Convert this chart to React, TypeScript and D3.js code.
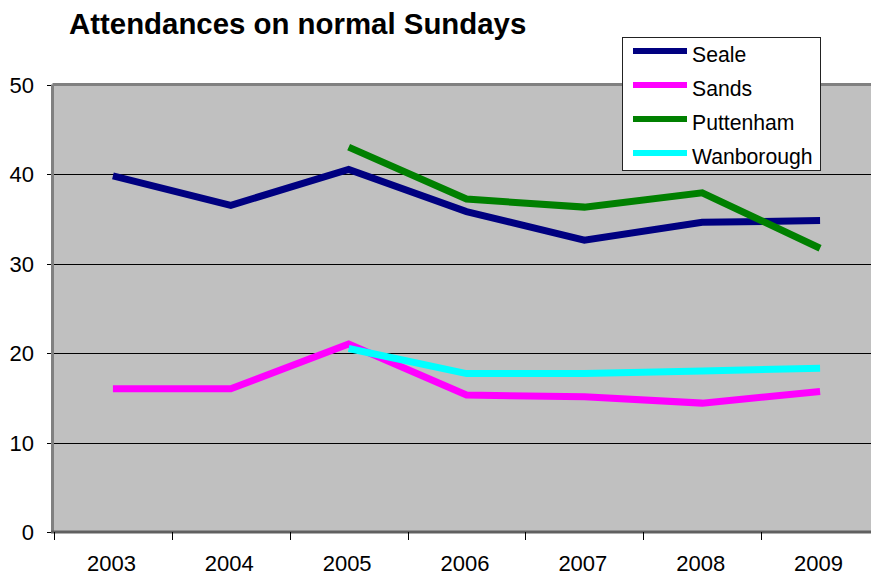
import * as d3 from "d3";
import { useEffect, useRef } from "react";

const years = ["2003", "2004", "2005", "2006", "2007", "2008", "2009"];
const seale = [39.8, 36.5, 40.5, 35.8, 32.6, 34.6, 34.8];
const sands = [16.0, 16.0, 21.0, 15.3, 15.1, 14.4, 15.7];
const puttenham = [null, null, 43.0, 37.2, 36.3, 37.9, 31.7];
const wanborough = [null, null, 20.5, 17.7, 17.7, 18.0, 18.3];
const yTicks = [0, 10, 20, 30, 40, 50];

const seriesNames = ["Seale", "Sands", "Puttenham", "Wanborough"];
const seriesColors = ["#000080", "#FF00FF", "#008000", "#00FFFF"];

const font = "'Liberation Sans', Arial, sans-serif";

const App = () => {
  const ref = useRef<SVGSVGElement>(null);

  useEffect(() => {
    const svg = d3.select(ref.current);
    svg.selectAll("*").remove();

    const margin = { top: 84.5, left: 54, bottom: 42, right: -8 };
    const width = 871;
    const height = 574;
    const x0 = margin.left;
    const x1 = width - margin.right;
    const y1 = height - margin.bottom;

    const scaleX = d3.scaleBand().domain(years).range([x0, x1]);
    const scaleY = d3.scaleLinear().domain([0, 50]).range([y1, margin.top]);

    // plot area
    svg.append("rect")
      .attr("x", x0).attr("y", margin.top)
      .attr("width", x1 - x0).attr("height", y1 - margin.top)
      .attr("fill", "#C0C0C0");

    // gridlines
    svg.selectAll(".grid")
      .data(yTicks.filter(t => t > 0 && t < 50))
      .enter()
      .append("line")
      .attr("x1", x0 - 7).attr("x2", x1)
      .attr("y1", d => Math.round(scaleY(d)) + 0.5)
      .attr("y2", d => Math.round(scaleY(d)) + 0.5)
      .attr("stroke", "#000").attr("stroke-width", 1);

    // y ticks for 0 / 50
    svg.selectAll(".ytk")
      .data([0, 50])
      .enter()
      .append("line")
      .attr("x1", x0 - 7).attr("x2", x0)
      .attr("y1", d => Math.round(scaleY(d)) + 0.5)
      .attr("y2", d => Math.round(scaleY(d)) + 0.5)
      .attr("stroke", "#000").attr("stroke-width", 1);

    // border
    svg.append("line")
      .attr("x1", x0 - 1.5).attr("x2", x1).attr("y1", margin.top).attr("y2", margin.top)
      .attr("stroke", "#808080").attr("stroke-width", 3);
    svg.append("line")
      .attr("x1", x0 - 1.5).attr("x2", x0 - 1.5).attr("y1", margin.top).attr("y2", y1)
      .attr("stroke", "#808080").attr("stroke-width", 3);
    svg.append("line")
      .attr("x1", x0 - 3).attr("x2", x1).attr("y1", y1).attr("y2", y1)
      .attr("stroke", "#606060").attr("stroke-width", 3);

    // x ticks
    svg.selectAll(".xtk")
      .data(years)
      .enter()
      .append("line")
      .attr("x1", d => Math.round(scaleX(d)!) + 0.5)
      .attr("x2", d => Math.round(scaleX(d)!) + 0.5)
      .attr("y1", y1).attr("y2", y1 + 8)
      .attr("stroke", "#000").attr("stroke-width", 1);

    // labels
    svg.selectAll(".xl")
      .data(years)
      .enter()
      .append("text")
      .attr("x", d => scaleX(d)! + scaleX.bandwidth() / 2 - 1.5)
      .attr("y", y1 + 38.5)
      .attr("text-anchor", "middle")
      .attr("font-family", font).attr("font-size", 22)
      .text(d => d);

    svg.selectAll(".yl")
      .data(yTicks)
      .enter()
      .append("text")
      .attr("x", 34)
      .attr("y", d => scaleY(d) + 8)
      .attr("text-anchor", "end")
      .attr("font-family", font).attr("font-size", 22)
      .text(d => d);

    // series
    const cx = (i: number) => scaleX(years[i])! + scaleX.bandwidth() / 2;
    const line = d3.line<number | null>()
      .defined(d => d != null)
      .x((d, i) => cx(i))
      .y(d => scaleY(d as number));

    [seale, sands, puttenham, wanborough].forEach((s, k) => {
      svg.append("path")
        .attr("d", line(s))
        .attr("fill", "none")
        .attr("stroke", seriesColors[k])
        .attr("stroke-width", 7)
        .attr("stroke-linejoin", "miter");
    });

    // title
    svg.append("text")
      .attr("x", 69).attr("y", 34)
      .attr("font-family", font).attr("font-size", 29.4).attr("font-weight", "bold")
      .text("Attendances on normal Sundays");

    // legend
    const lg = svg.append("g");
    lg.append("rect")
      .attr("x", 622.5).attr("y", 37.5).attr("width", 198).attr("height", 133)
      .attr("fill", "#fff").attr("stroke", "#222").attr("stroke-width", 1);
    seriesNames.forEach((n, k) => {
      const yy = 51 + k * 34;
      lg.append("line")
        .attr("x1", 633).attr("x2", 687).attr("y1", yy).attr("y2", yy)
        .attr("stroke", seriesColors[k]).attr("stroke-width", 6);
      lg.append("text")
        .attr("x", 692).attr("y", yy + 11)
        .attr("font-family", font).attr("font-size", 21.2)
        .text(n);
    });
  }, []);

  return (
    <svg ref={ref} width={871} height={574}
      style={{ position: "fixed", top: 0, left: 0, background: "#fff" }} />
  );
};

export default App;
